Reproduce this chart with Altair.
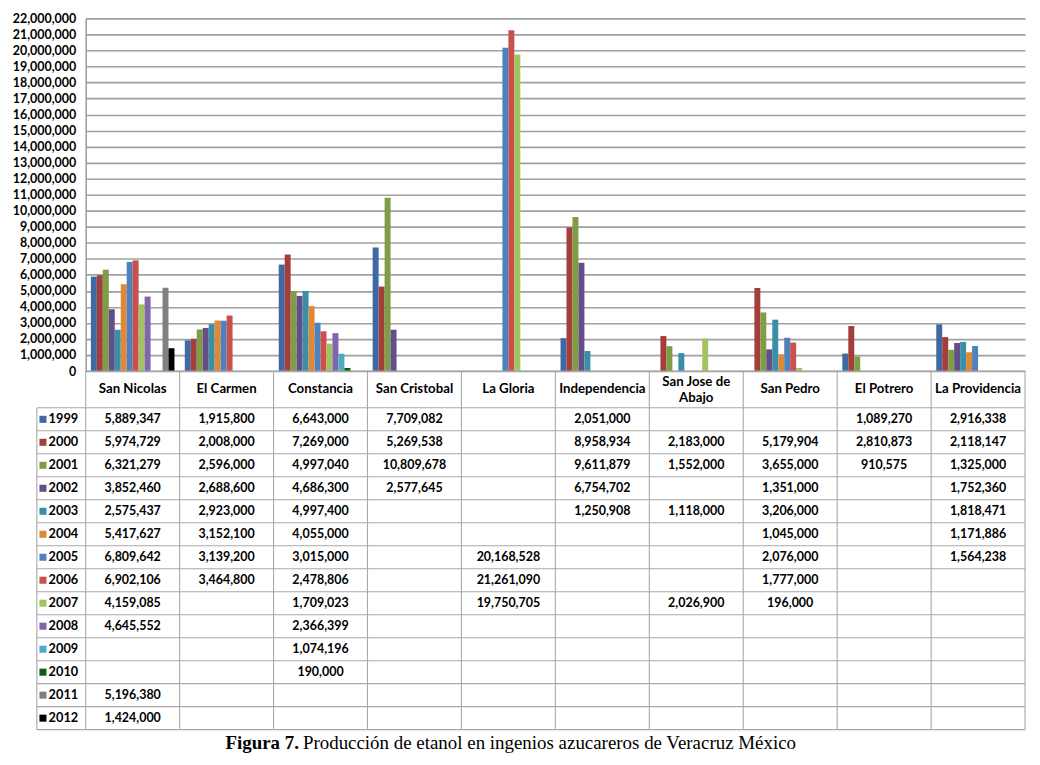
import altair as alt
import pandas as pd

categories = ["San Nicolas", "El Carmen", "Constancia", "San Cristobal", "La Gloria",
              "Independencia", "San Jose de Abajo", "San Pedro", "El Potrero", "La Providencia"]
header_labels = ["San Nicolas", "El Carmen", "Constancia", "San Cristobal", "La Gloria",
                 "Independencia", "San Jose de\nAbajo", "San Pedro", "El Potrero", "La Providencia"]
years = ["1999", "2000", "2001", "2002", "2003", "2004", "2005", "2006",
         "2007", "2008", "2009", "2010", "2011", "2012"]
colors = ["#3E69A3", "#A43E3B", "#7F9D47", "#634E87", "#3A8FA8", "#DE8838", "#4F81BD",
          "#C9504D", "#A3C362", "#8066AE", "#4BACC6", "#0B5E12", "#808080", "#000000"]

v1999 = [5889347, 1915800, 6643000, 7709082, None, 2051000, None, None, 1089270, 2916338]
v2000 = [5974729, 2008000, 7269000, 5269538, None, 8958934, 2183000, 5179904, 2810873, 2118147]
v2001 = [6321279, 2596000, 4997040, 10809678, None, 9611879, 1552000, 3655000, 910575, 1325000]
v2002 = [3852460, 2688600, 4686300, 2577645, None, 6754702, None, 1351000, None, 1752360]
v2003 = [2575437, 2923000, 4997400, None, None, 1250908, 1118000, 3206000, None, 1818471]
v2004 = [5417627, 3152100, 4055000, None, None, None, None, 1045000, None, 1171886]
v2005 = [6809642, 3139200, 3015000, None, 20168528, None, None, 2076000, None, 1564238]
v2006 = [6902106, 3464800, 2478806, None, 21261090, None, None, 1777000, None, None]
v2007 = [4159085, None, 1709023, None, 19750705, None, 2026900, 196000, None, None]
v2008 = [4645552, None, 2366399, None, None, None, None, None, None, None]
v2009 = [None, None, 1074196, None, None, None, None, None, None, None]
v2010 = [None, None, 190000, None, None, None, None, None, None, None]
v2011 = [5196380, None, None, None, None, None, None, None, None, None]
v2012 = [1424000, None, None, None, None, None, None, None, None, None]

series = [v1999, v2000, v2001, v2002, v2003, v2004, v2005, v2006,
          v2007, v2008, v2009, v2010, v2011, v2012]

caption_bold = "Figura 7."
caption_rest = "Producción de etanol en ingenios azucareros de Veracruz México"

FONT = "Lato"
HEADER_H = 1.6          # header row height, in table row units
N_ROWS = len(years)
TABLE_H = HEADER_H + N_ROWS
LEG_W = 0.52            # legend column width, in category units

rows = []
for yi, (yr, vals) in enumerate(zip(years, series)):
    for ci, (cat, v) in enumerate(zip(categories, vals)):
        if v is not None:
            rows.append({"category": cat, "year": yr, "value": v,
                         "u": ci + 0.5, "row": HEADER_H + yi + 0.5})
df = pd.DataFrame(rows)

color_scale = alt.Scale(domain=years, range=colors)

bars = alt.Chart(df).mark_bar().encode(
    x=alt.X("category:N", sort=categories,
            scale=alt.Scale(domain=categories, paddingInner=0.11, paddingOuter=0.055),
            axis=None),
    xOffset=alt.XOffset("year:N", scale=alt.Scale(domain=years, paddingInner=0, paddingOuter=0)),
    y=alt.Y("value:Q", scale=alt.Scale(domain=[0, 22000000], nice=False),
            axis=alt.Axis(values=list(range(0, 22000001, 1000000)), format=",d", title=None,
                          ticks=False, labelFont=FONT, labelFontWeight="bold", labelFontSize=12.5,
                          labelColor="black", labelPadding=10, domainColor="#9a9a9a",
                          domainWidth=1.5, gridColor="#a0a0a0", gridWidth=1.6)),
    color=alt.Color("year:N", scale=color_scale, legend=None),
).properties(width=943, height=354)

xs = alt.Scale(domain=[0, 10], nice=False, zero=False)
ys = alt.Scale(domain=[0, TABLE_H], nice=False, zero=False, reverse=True)

# grid lines of the data table
lines = []
for i in range(len(categories) + 1):
    lines.append({"x": i, "x2": i, "y": 0, "y2": TABLE_H})
lines.append({"x": -LEG_W, "x2": -LEG_W, "y": HEADER_H, "y2": TABLE_H})
for k in range(N_ROWS + 1):
    lines.append({"x": -LEG_W, "x2": 10, "y": HEADER_H + k, "y2": HEADER_H + k})
lines.append({"x": 0, "x2": 10, "y": 0, "y2": 0})
lines_df = pd.DataFrame(lines)

grid = alt.Chart(lines_df).mark_rule(color="#a8a8a8", strokeWidth=1.1).encode(
    x=alt.X("x:Q", scale=xs, axis=None), x2="x2:Q",
    y=alt.Y("y:Q", scale=ys, axis=None), y2="y2:Q")

header_df = pd.DataFrame({"label": header_labels,
                          "u": [i + 0.5 for i in range(len(categories))],
                          "hy": [HEADER_H / 2 - (0.34 if "\n" in s else 0) for s in header_labels]})
header = alt.Chart(header_df).mark_text(font=FONT, fontWeight="bold", fontSize=13.3,
                                         color="black", lineBreak="\n", lineHeight=16).encode(
    x=alt.X("u:Q", scale=xs, axis=None),
    y=alt.Y("hy:Q", scale=ys, axis=None),
    text="label:N")

cells = alt.Chart(df).mark_text(font=FONT, fontWeight="bold", fontSize=12.5, color="black").encode(
    x=alt.X("u:Q", scale=xs, axis=None),
    y=alt.Y("row:Q", scale=ys, axis=None),
    text=alt.Text("value:Q", format=",d"))

legend_df = pd.DataFrame({"year": years,
                          "row": [HEADER_H + i + 0.5 for i in range(N_ROWS)],
                          "sx": [-0.455] * N_ROWS,
                          "tx": [-0.395] * N_ROWS})
leg_sq = alt.Chart(legend_df).mark_square(size=50, opacity=1).encode(
    x=alt.X("sx:Q", scale=xs, axis=None),
    y=alt.Y("row:Q", scale=ys, axis=None),
    color=alt.Color("year:N", scale=color_scale, legend=None))
leg_tx = alt.Chart(legend_df).mark_text(font=FONT, fontWeight="bold", fontSize=12.8,
                                         color="black", align="left").encode(
    x=alt.X("tx:Q", scale=xs, axis=None),
    y=alt.Y("row:Q", scale=ys, axis=None),
    text="year:N")

cap_df = pd.DataFrame({"bold": [caption_bold], "rest": [caption_rest],
                       "cx": [2.27], "cy": [TABLE_H + 0.6]})
cap1 = alt.Chart(cap_df).mark_text(font="Liberation Serif", fontWeight="bold", fontSize=19,
                                    color="black", align="right").encode(
    x=alt.X("cx:Q", scale=xs, axis=None), y=alt.Y("cy:Q", scale=ys, axis=None), text="bold:N")
cap2 = alt.Chart(cap_df).mark_text(font="Liberation Serif", fontSize=19,
                                    color="black", align="left", dx=4).encode(
    x=alt.X("cx:Q", scale=xs, axis=None), y=alt.Y("cy:Q", scale=ys, axis=None), text="rest:N")

table = alt.layer(grid, header, cells, leg_sq, leg_tx, cap1, cap2).properties(
    width=943, height=360)

chart = alt.vconcat(bars, table, spacing=0, bounds="flush").configure_view(
    strokeWidth=0).properties(padding={"left": 4, "top": 3, "right": 6, "bottom": 2})

chart.save("out.html", embed_options={"renderer": "svg", "actions": False})
